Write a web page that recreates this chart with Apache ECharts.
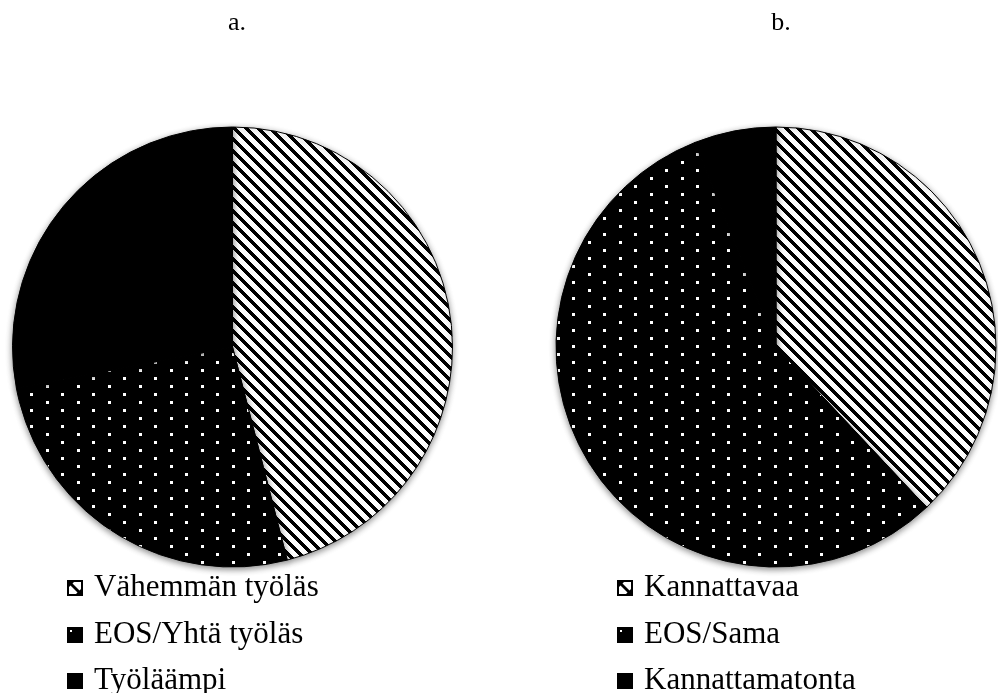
<!DOCTYPE html>
<html>
<head>
<meta charset="utf-8">
<script src="https://cdn.jsdelivr.net/npm/echarts@6/dist/echarts.min.js"></script>
<style>html,body{margin:0;padding:0;background:#fff}#chart{width:998px;height:693px}</style>
</head>
<body>
<div id="chart"></div>
<script>
const titlesTop = ['a.', 'b.'];
const categoriesA = ['Vähemmän työläs', 'EOS/Yhtä työläs', 'Työläämpi'];
const valuesA = [46, 26, 28];
const categoriesB = ['Kannattavaa', 'EOS/Sama', 'Kannattamatonta'];
const valuesB = [38, 56, 6];

function makeCanvas(w, h) { const c = document.createElement('canvas'); c.width = w; c.height = h; return c; }

function stripePattern(P, w) {
  const c = makeCanvas(P, P), ctx = c.getContext('2d');
  const img = ctx.createImageData(P, P);
  for (let y = 0; y < P; y++) for (let x = 0; x < P; x++) {
    const d = (((y - x) % P) + P) % P;
    const v = d < w ? 0 : 255;
    const i = (y * P + x) * 4;
    img.data[i] = img.data[i + 1] = img.data[i + 2] = v; img.data[i + 3] = 255;
  }
  ctx.putImageData(img, 0, 0);
  return c;
}
function dotPattern(W, H, dots) {
  const c = makeCanvas(W, H), ctx = c.getContext('2d');
  ctx.fillStyle = '#000'; ctx.fillRect(0, 0, W, H);
  ctx.fillStyle = '#fff';
  dots.forEach(([dx, dy]) => {
    for (let ox = -W; ox <= W; ox += W) for (let oy = -H; oy <= H; oy += H) ctx.fillRect(dx + ox, dy + oy, 3, 3);
  });
  return c;
}
function iconHatch() {
  const c = makeCanvas(16, 16), ctx = c.getContext('2d');
  ctx.fillStyle = '#000'; ctx.fillRect(0, 0, 16, 16);
  ctx.fillStyle = '#fff'; ctx.fillRect(2, 2, 12, 12);
  ctx.fillStyle = '#000';
  ctx.beginPath(); ctx.moveTo(2, 2); ctx.lineTo(7, 2); ctx.lineTo(2, 7); ctx.closePath(); ctx.fill();
  ctx.beginPath(); ctx.moveTo(4, 2); ctx.lineTo(14, 12); ctx.lineTo(14, 14); ctx.lineTo(12, 14); ctx.lineTo(2, 4); ctx.lineTo(2, 2); ctx.closePath(); ctx.fill();
  ctx.beginPath(); ctx.moveTo(14, 9); ctx.lineTo(14, 14); ctx.lineTo(9, 14); ctx.closePath(); ctx.fill();
  return 'image://' + c.toDataURL();
}
function iconDot() {
  const c = makeCanvas(16, 16), ctx = c.getContext('2d');
  ctx.fillStyle = '#000'; ctx.fillRect(0, 0, 16, 16);
  ctx.fillStyle = '#fff'; ctx.fillRect(3, 3, 2, 2);
  return 'image://' + c.toDataURL();
}
function iconSolid() {
  const c = makeCanvas(16, 16), ctx = c.getContext('2d');
  ctx.fillStyle = '#000'; ctx.fillRect(0, 0, 16, 16);
  return 'image://' + c.toDataURL();
}

const stripes = { image: stripePattern(12, 5), repeat: 'repeat' };
const dotsA = { image: dotPattern(31, 16, [[15, 1], [30, 9]]), repeat: 'repeat' };
const dotsB = { image: dotPattern(31, 16, [[30, 1], [14, 9]]), repeat: 'repeat' };
const icons = [iconHatch(), iconDot(), iconSolid()];

const fontFam = '"Liberation Serif", "Times New Roman", serif';
const rowCenters = [585, 632, 678];

function pieSeries(name, cats, vals, center, dots) {
  const fills = [stripes, dots, '#000'];
  return {
    type: 'pie', name: name, center: center, radius: 220,
    startAngle: 90, clockwise: true, animation: false,
    label: { show: false }, labelLine: { show: false },
    emphasis: { disabled: true, scale: false },
    itemStyle: { borderColor: '#000', borderWidth: 1, shadowBlur: 6, shadowColor: 'rgba(0,0,0,0.45)', shadowOffsetY: 2 },
    data: cats.map((c, i) => ({ name: c, value: vals[i], itemStyle: { color: fills[i] } }))
  };
}
function legendsFor(cats, left) {
  return cats.map((c, i) => ({
    orient: 'horizontal', left: left, top: rowCenters[i] - 16, padding: 0,
    itemWidth: 16, itemHeight: 16, selectedMode: false,
    textStyle: { fontFamily: fontFam, fontSize: 31, color: '#000', lineHeight: 34, padding: [4, 0, 0, 6] },
    data: [{ name: c, icon: icons[i] }]
  }));
}

const chart = echarts.init(document.getElementById('chart'), null, { renderer: 'canvas' });
chart.setOption({
  backgroundColor: '#fff',
  animation: false,
  title: [
    { text: titlesTop[0], left: 232, top: 5, textAlign: 'center', textStyle: { fontFamily: fontFam, fontSize: 26, fontWeight: 'normal', color: '#000' } },
    { text: titlesTop[1], left: 776, top: 5, textAlign: 'center', textStyle: { fontFamily: fontFam, fontSize: 26, fontWeight: 'normal', color: '#000' } }
  ],
  legend: legendsFor(categoriesA, 67).concat(legendsFor(categoriesB, 617)),
  series: [
    pieSeries('a', categoriesA, valuesA, [232.5, 347], dotsA),
    pieSeries('b', categoriesB, valuesB, [776, 347], dotsB)
  ]
});
</script>
</body>
</html>
